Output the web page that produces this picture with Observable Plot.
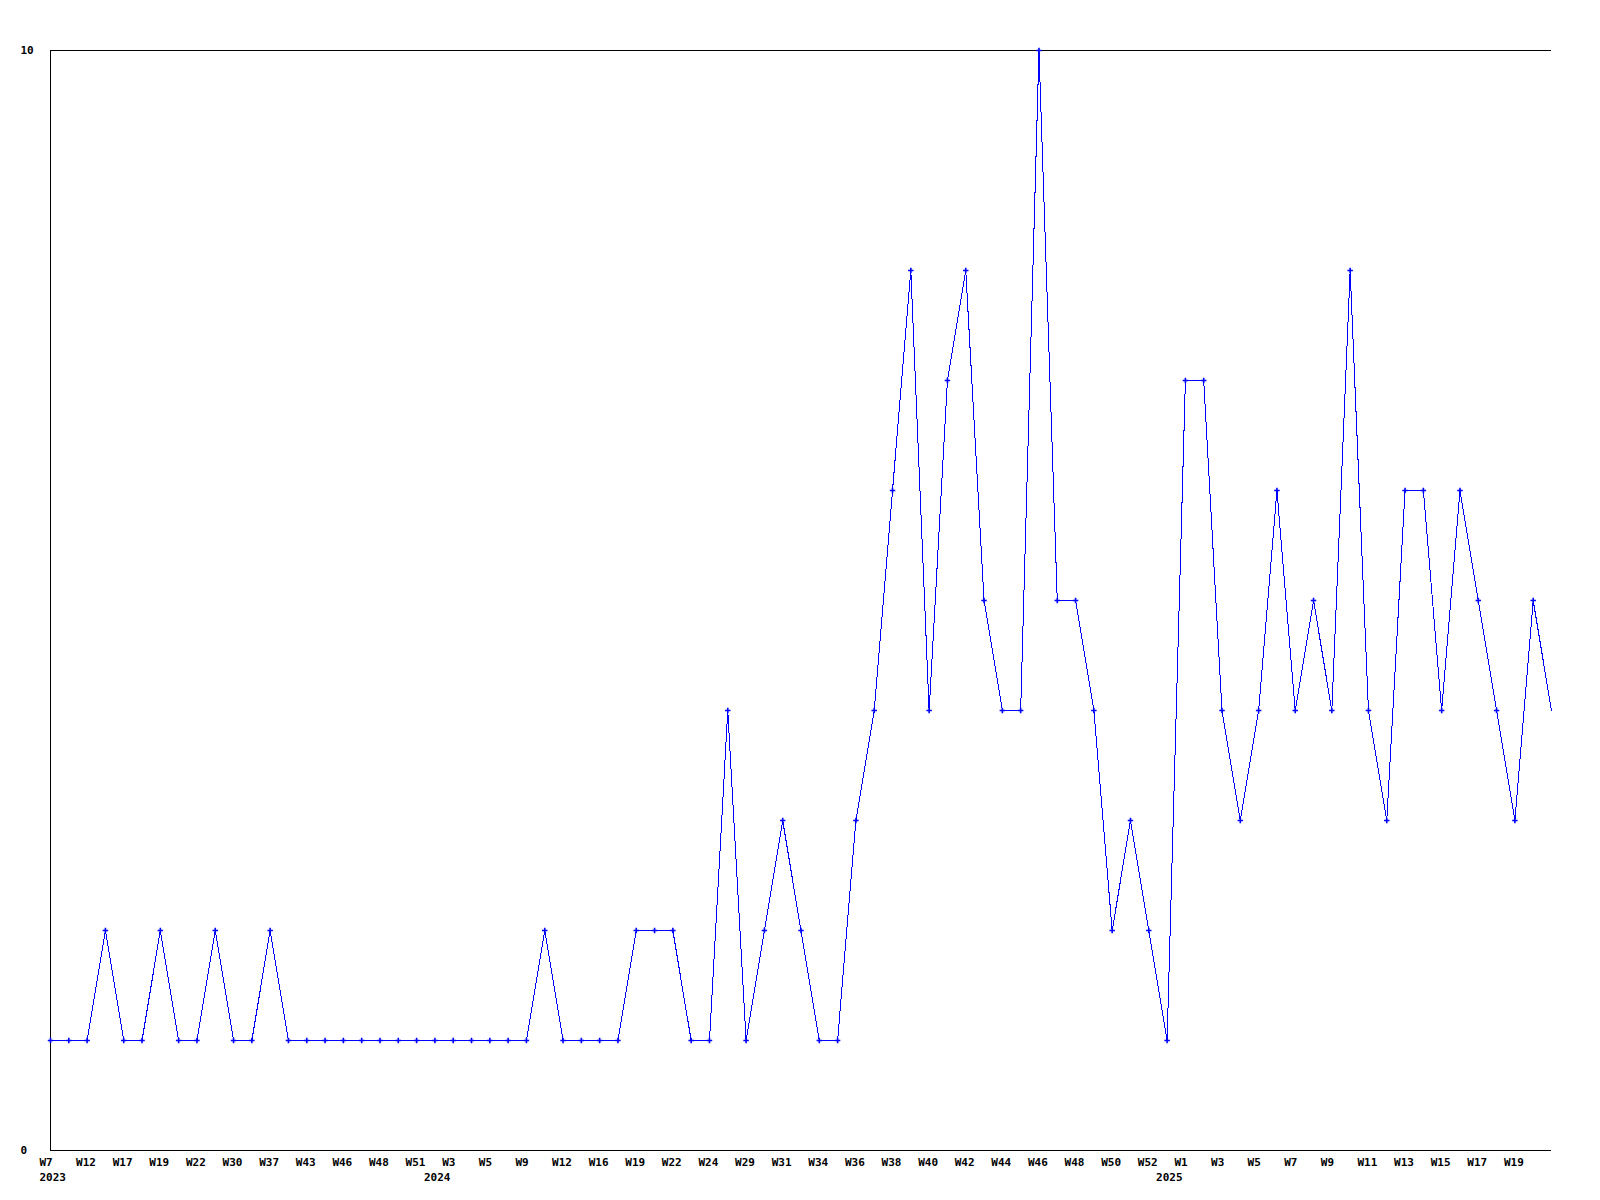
<!DOCTYPE html>
<html>
<head>
<meta charset="utf-8">
<script src="https://cdn.jsdelivr.net/npm/d3@7"></script>
<script src="https://cdn.jsdelivr.net/npm/@observablehq/plot@0.6"></script>
<style>
  html, body { margin: 0; padding: 0; background: #ffffff; }
  #chart svg { display: block; }
</style>
</head>
<body>
<div id="chart"></div>
<script>
// Week categories (one point per category), in order
const weeks = [
  "W7","W9","W12","W14","W17","W18","W19","W21","W22","W27",
  "W30","W33","W37","W40","W43","W45","W46","W47","W48","W50",
  "W51","W1","W3","W4","W5","W7","W9","W10","W12","W14",
  "W16","W18","W19","W20","W22","W23","W24","W26","W29","W30",
  "W31","W33","W34","W35","W36","W37","W38","W39","W40","W41",
  "W42","W43","W44","W45","W46","W47","W48","W49","W50","W51",
  "W52","W0","W1","W2","W3","W4","W5","W6","W7","W8",
  "W9","W10","W11","W12","W13","W14","W15","W16","W17","W18",
  "W19","W20","W21"
];
// Series values
const values = [
  1,1,1,2,1,1,2,1,1,2,
  1,1,2,1,1,1,1,1,1,1,
  1,1,1,1,1,1,1,2,1,1,
  1,1,2,2,2,1,1,4,1,2,
  3,2,1,1,3,4,6,8,4,7,
  8,5,4,4,10,5,5,4,2,3,
  2,1,7,7,4,3,4,6,4,5,
  4,8,4,3,6,6,4,6,5,4,
  3,5,4
];
// Year labels and the category where each year starts
const years = ["2023", "2024", "2025"];
const yearStart = [0, 21, 61];
// Y tick labels
const yTicks = [0, 10];
const labelEvery = 2;

const data = values.map((v, i) => ({i, v, week: weeks[i]}));
const last = values.length - 1;
const blue = "#0000ff";

const chart = Plot.plot({
  width: 1600,
  height: 1200,
  marginLeft: 50,
  marginRight: 49,
  marginTop: 50,
  marginBottom: 50,
  style: {
    fontFamily: "'DejaVu Sans Mono', 'Liberation Mono', monospace",
    fontSize: "11px",
    fontWeight: "bold",
    background: "#ffffff",
    color: "#000000"
  },
  x: {domain: [0, last], axis: null},
  y: {domain: [0, 10], axis: null},
  marks: [
    Plot.ruleY([0, 10], {stroke: "#000000", strokeWidth: 1, shapeRendering: "crispEdges"}),
    Plot.ruleX([0], {stroke: "#000000", strokeWidth: 1, shapeRendering: "crispEdges"}),
    Plot.line(data, {x: "i", y: "v", stroke: blue, strokeWidth: 1, shapeRendering: "crispEdges"}),
    Plot.dot(data.filter(d => d.i < last), {x: "i", y: "v", symbol: "plus", r: 1.9, stroke: blue, strokeWidth: 1.6}),
    Plot.text(data.filter(d => d.i % labelEvery === 0 && d.i < last), {
      x: "i", y: () => 0, text: "week",
      textAnchor: "start", lineAnchor: "top", dx: -11, dy: 8, fill: "#000000"
    }),
    Plot.text(yearStart, {
      x: d => d, y: () => 0, text: (d, k) => years[k],
      textAnchor: "start", lineAnchor: "top", dx: -11, dy: 23, fill: "#000000"
    }),
    Plot.text(yTicks, {
      y: d => d, frameAnchor: "left", text: d => String(d),
      textAnchor: "start", dx: -30, fill: "#000000"
    })
  ]
});
document.getElementById("chart").appendChild(chart);
</script>
</body>
</html>
